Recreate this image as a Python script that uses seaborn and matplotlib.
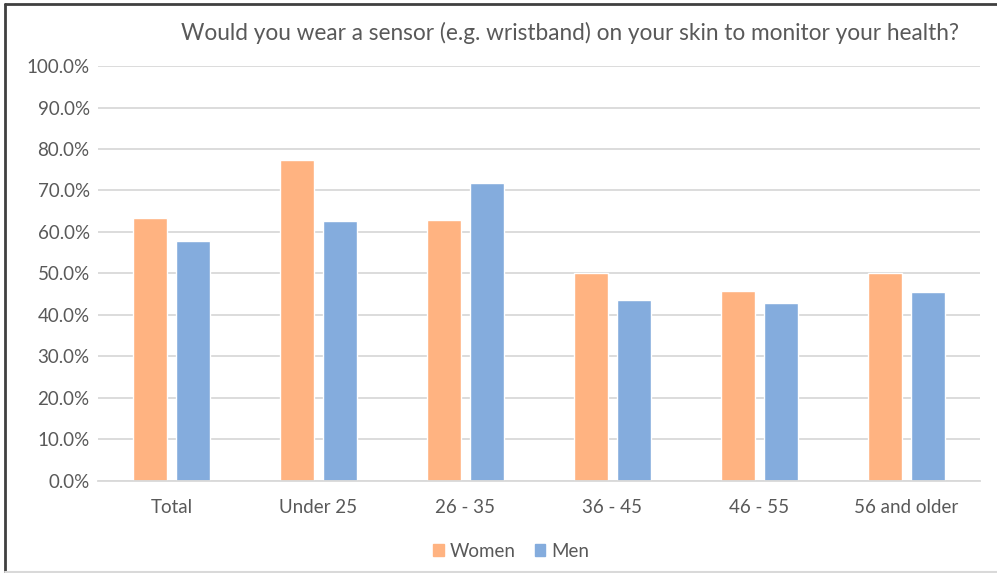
import matplotlib
matplotlib.use("Agg")
import matplotlib.pyplot as plt
import matplotlib.ticker as mticker
import matplotlib.lines as mlines
import numpy as np
import pandas as pd
import seaborn as sns

# data
groups = ["Total", "Under 25", "26 - 35", "36 - 45", "46 - 55", "56 and older"]
women = [0.633, 0.773, 0.630, 0.500, 0.458, 0.500]
men = [0.578, 0.626, 0.719, 0.436, 0.429, 0.455]
series = ["Women", "Men"]
colors = ["#FFB381", "#84ACDD"]

df = pd.DataFrame({
    "group": groups * 2,
    "gender": ["Women"] * len(groups) + ["Men"] * len(groups),
    "value": women + men,
})

sns.set_theme(style="white")
plt.rcParams["font.family"] = ["Lato", "DejaVu Sans"]

fig = plt.figure(figsize=(9.97, 5.73), dpi=100)
ax = fig.add_axes([0.0983, 0.1606, 0.8846, 0.7242])

sns.barplot(data=df, x="group", y="value", hue="gender", order=groups,
            hue_order=series, palette=colors, width=0.58, gap=0.2,
            saturation=1, ax=ax, legend=False)

ax.set_ylim(0, 1.0)
ax.set_xlim(-0.5, 5.5)
ax.yaxis.set_major_locator(mticker.MultipleLocator(0.1))
ax.yaxis.set_major_formatter(mticker.PercentFormatter(1.0, decimals=1))
ax.grid(axis="y", color="#D9D9D9", linewidth=1.3)
ax.set_axisbelow(True)
for s in ["top", "right", "left"]:
    ax.spines[s].set_visible(False)
ax.spines["bottom"].set_color("#D9D9D9")
ax.spines["bottom"].set_linewidth(1.3)
ax.set_xlabel("")
ax.set_ylabel("")
ax.tick_params(axis="both", length=0, labelsize=13.5, labelcolor="#595959")
ax.tick_params(axis="y", pad=6)
ax.tick_params(axis="x", pad=13)

fig.text(0.572, 0.942, "Would you wear a sensor (e.g. wristband) on your skin to monitor your health?",
         ha="center", va="center", fontsize=16.3, color="#595959")

handles = [plt.Rectangle((0, 0), 1, 1, color=c) for c in colors]
fig.legend(handles, series, loc="center", bbox_to_anchor=(0.513, 0.038), ncol=2,
           frameon=False, fontsize=13.5, labelcolor="#595959", handlelength=0.55,
           handleheight=0.55, handletextpad=0.35, columnspacing=1.0)

# outer frame (left and top dark, bottom light)
fig.add_artist(mlines.Line2D([0.0055, 0.0055], [0, 0.993], color="#404040", linewidth=2))
fig.add_artist(mlines.Line2D([0.0055, 1.0], [0.993, 0.993], color="#404040", linewidth=2))
fig.add_artist(mlines.Line2D([0.0055, 1.0], [0.001, 0.001], color="#D9D9D9", linewidth=1.5))

fig.savefig("out.png", dpi=100)
